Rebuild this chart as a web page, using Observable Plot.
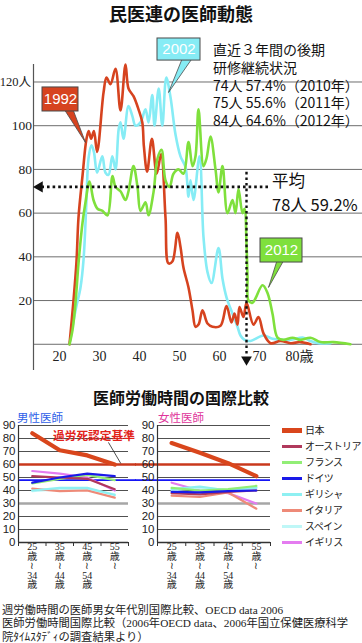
<!DOCTYPE html>
<html lang="ja"><head><meta charset="utf-8">
<script src="https://cdn.jsdelivr.net/npm/d3@7"></script>
<script src="https://cdn.jsdelivr.net/npm/@observablehq/plot@0.6"></script>
<style>
html,body{margin:0;padding:0;background:#fff;}
#root{position:relative;width:362px;height:643px;overflow:hidden;background:#fff;}
.abs{position:absolute;white-space:nowrap;}
#root svg{position:absolute;overflow:visible;}
</style></head><body><div id="root"></div>
<script>
// ===== 民医連の医師動態 : doctors by age =====
const age1992 = [22.5,23.5,24.25,24.75,25.75,26.75,27.3,27.9,28.6,29.4,31,31.75,32.75,34,35.25,36.5,37.25,38.5,39.75,40.7,41.1,41.9,43.1,44.3,45.4,46.5,47.25,48.25,49.5,50.25,51,52.25,53.25,54,54.75,55.75,57,58.25,60.25,61.75,63,63.75,64.5,65,66,66.75,68.5,69.75,71,72.75,75.25,77.75,80.25,82.75];
const count1992 = [0,20,38,58,77,94,97.5,94,97.5,88,115,122,119,126,107,128,117,113.5,107.5,101.5,90.5,79,94,78,87,58,37,38,51,44.5,35,26,15.5,8,9,15.5,9.5,8,8.5,17.5,10,14,9,17,12.5,19,9,12.5,5,0.5,1.5,0.5,1,0];
const age2002 = [22.5,24,25.25,26,26.75,27.25,28,28.6,29.4,30.7,31.5,32.25,33.2,34,34.8,35.25,36,37.25,38.2,39,40.25,41.5,42.25,43.2,43.75,44.8,45.7,46.7,47.75,49,50.25,51.5,52.25,52.75,53.5,55,56,57,58,59.75,60.75,61.75,63.25,64.5,65.25,66.25,67.75,71,73.25,75.75,77.75,81,82.75,84.75,87.75];
const count2002 = [0,15.5,26,38.5,66,85,91,88,78.5,86,78.5,77.5,86,80,98.5,101.5,94,109,104.5,100,101.5,107.5,101.5,114,100,117,100,122,113,96,86,81,67.5,75,66,86,49,33,28,44,30,21.5,14,8,4,2,1.5,4,2.5,2,2,3,1.5,0.5,0.5];
const age2012 = [22.5,23.25,24,24.75,25.75,26.5,27.5,28.5,29.5,30.75,32,33.25,34,35.25,36.5,37.25,38.5,39.5,40.25,41.5,42.25,43.5,44.5,45.5,46.5,47.5,48.5,49.75,51,52.25,53.25,54,54.75,56,56.75,57.75,59,59.75,60.75,62,63.25,64,64.75,65.75,66.25,66.75,67,67.25,68.25,70.75,72,73.25,74.5,76,78.25,80.25,82.75,85.25,88.5,92.75];
const count2012 = [0,6.5,19,37,55.5,65,74.5,66,62,61,59,77,72,70,66,70,81.5,72,61,65,59,69.5,85,89,75,72,78,80,78,92.5,81.5,86,107.5,81.5,85,95,80,69.5,81.5,60,66,60,71,60,62,46,31,20,19,27,23.5,14,3,2,3,2,3,1,1,0];
const seriesYears = ["1992","2002","2012"];
const yTicks = [20,40,60,80,100,120];
const xTicks = [20,30,40,50,60,70,80];
const averageLevel = 72;      // dotted "平均" line
const averageAge = 66.75;     // dotted vertical line
const recentLines = ["直近３年間の後期","研修継続状況","74人 57.4%（2010年）","75人 55.6%（2011年）","84人 64.6%（2012年）"];
const averageText = ["平均","78人 59.2%"];

// ===== 医師労働時間の国際比較 =====
const countries = ["日本","オーストリア","フランス","ドイツ","ギリシャ","イタリア","スペイン","イギリス"];
const ageFrom = [25,35,45,55];
const ageTo = [34,44,54,null];
const maleHours = [
  [84,71,67,60],
  [51,50,49,41],
  [45.5,49,52,48],
  [46,50,53,51],
  [40,42,42,36.5],
  [41.5,39.5,40,34.5],
  [39.5,41,41,37],
  [55,53,50,40]
];
const femaleHours = [
  [76.5,69,61,51],
  [38,37,39,40],
  [42,40,41,43.5],
  [39,38.5,39.5,40],
  [41,43,40,42],
  [36,35,38.5,26],
  [40,42,40.5,42.5],
  [46,40,38,30]
];
const hourTicks = d3.range(0, 91, 10);
const karoshiLine = 60;
const euLine = 48;

// ===== styles =====
const SANS = '"Noto Sans CJK JP","Noto Sans",sans-serif';
const SERIF = '"Liberation Serif","DejaVu Serif","Noto Sans CJK JP",serif';
const ARIAL = '"Liberation Sans",Arial,sans-serif';
const lineColors = {"1992":"#d6431f","2002":"#86ecf5","2012":"#7fe03c"};
const countryColors = ["#d9461c","#b0395c","#92ee76","#1a1ae8","#8ef0f2","#ee8a78","#bff7f7","#e47cf0"];

const root = document.getElementById("root");
function addText(txt, o) {
  const d = document.createElement("div");
  d.className = "abs";
  const h = o.lh || Math.round(o.size * 1.3);
  d.style.cssText = `left:${o.left||0}px;top:${o.cy - h/2}px;font-size:${o.size}px;line-height:${h}px;color:${o.color||"#111"};font-weight:${o.weight||400};font-family:${o.family||SANS};text-align:${o.align||"left"};` + (o.width ? `width:${o.width}px;` : "") + (o.extra||"");
  d.textContent = txt;
  root.appendChild(d);
  return d;
}
function place(svg, left, top) {
  svg.style.left = left + "px";
  svg.style.top = top + "px";
  root.appendChild(svg);
}

// ===== main chart =====
const xMin = 13.5, xMax = 95.75;
const toRows = (ages, counts, year) => ages.map((a, i) => ({age: a, count: counts[i], year}));
const rows = [
  ...toRows(age2002, count2002, "2002"),
  ...toRows(age1992, count1992, "1992"),
  ...toRows(age2012, count2012, "2012")
];
const callouts = [
  {label:"1992", box:[15.75,24.75,106.5,117.5], wedge:[[21,108],[26.5,92.3],[23.25,108]]},
  {label:"2002", box:[44.5,55.25,129.8,139.9], wedge:[[50.75,131],[47.25,115.2],[53.25,131]]},
  {label:"2012", box:[70.25,80.75,37.4,48.4], wedge:[[74.5,39],[72.25,26],[76.25,39]]}
];
const calloutMarks = callouts.flatMap(c => [
  Plot.line(c.wedge, {x: d => d[0], y: d => d[1], fill: lineColors[c.label], stroke: "#4a4a4a", strokeWidth: 0.8}),
  Plot.rect([c], {x1: d => d.box[0], x2: d => d.box[1], y1: d => d.box[2], y2: d => d.box[3], fill: lineColors[c.label], stroke: "#4a4a4a", strokeWidth: 1}),
  Plot.text([c], {x: d => (d.box[0] + d.box[1]) / 2, y: d => (d.box[2] + d.box[3]) / 2, text: "label", fill: "white", fontSize: 15, fontFamily: ARIAL})
]);
const topTick = yTicks[yTicks.length - 1];

const main = Plot.plot({
  width: 362, height: 372,
  marginLeft: 33, marginRight: 0, marginTop: 64, marginBottom: 2,
  style: "background:transparent;overflow:visible;",
  x: {domain: [xMin, xMax], axis: null},
  y: {domain: [-12, 128], axis: null},
  marks: [
    Plot.ruleY([0, ...yTicks], {stroke: "#6d6d6d", strokeWidth: 1}),
    Plot.ruleX([xMin], {stroke: "#555", strokeWidth: 1.2}),
    Plot.text(yTicks.filter(d => d !== topTick), {x: xMin, y: d => d, text: d => String(d), textAnchor: "end", dx: -1.5, fontSize: 13.5, fontFamily: SERIF, fill: "#222"}),
    Plot.text([topTick], {x: xMin, y: d => d, text: d => d + "人", textAnchor: "end", dx: -2.5, fontSize: 12.5, fontFamily: SERIF, fill: "#222"}),
    Plot.text(xTicks, {x: d => d, frameAnchor: "bottom", dy: -10, text: d => d === 80 ? d + "歳" : String(d), fontSize: 14, fontFamily: SERIF, fill: "#222"}),
    Plot.line(rows, {x: "age", y: "count", z: "year", stroke: d => lineColors[d.year], strokeWidth: 2.6, curve: "catmull-rom"}),
    // average guides
    Plot.ruleY([averageLevel], {x1: 15.6, x2: 72.3, stroke: "#111", strokeWidth: 2.6, strokeDasharray: "2.6,3"}),
    Plot.dot([averageLevel], {x: 15, y: d => d, symbol: "triangle", rotate: -90, r: 4.2, fill: "#111", stroke: "none"}),
    Plot.ruleX([averageAge], {y1: -4.5, y2: 80, stroke: "#111", strokeWidth: 2.4, strokeDasharray: "2.6,3"}),
    Plot.dot([averageAge], {x: d => d, y: -7, symbol: "triangle", rotate: 180, r: 4, fill: "#111", stroke: "none"}),
    ...calloutMarks
  ]
});
place(main, 0, 0);

addText("民医連の医師動態", {left: 0, width: 362, align: "center", cy: 13, size: 18, weight: 700, lh: 22});
// the five-line note as one block
const block = addText("", {left: 213, cy: 50 + 2 * 17.7, size: 14, lh: 17.7 * 5});
block.style.lineHeight = "17.7px";
block.style.whiteSpace = "pre";
block.textContent = recentLines.join("\n");
addText(averageText[0], {left: 272, cy: 180, size: 16.5, lh: 20});
addText(averageText[1], {left: 272, cy: 203.5, size: 16.5, lh: 20});

// ===== small multiples =====
function ageLabel(i) {
  return ageFrom[i] + "\n歳\n≀" + (ageTo[i] ? "\n" + ageTo[i] + "\n歳" : "");
}
const drawOrder = [7, 6, 5, 4, 2, 1, 3, 0];
function hoursChart(values, opts) {
  const data = drawOrder.flatMap(ci => values[ci].map((v, i) => ({country: countries[ci], ci, i, v})));
  return Plot.plot({
    width: opts.width, height: 180,
    marginLeft: opts.marginLeft, marginRight: opts.marginRight, marginTop: 7, marginBottom: 56,
    style: "background:transparent;overflow:visible;",
    x: {domain: [-0.5, 3.5], label: null},
    y: {domain: [0, 90], label: null},
    marks: [
      Plot.ruleY(hourTicks.filter(d => d !== 0 && d !== 30 && d !== karoshiLine), {stroke: "#505050", strokeWidth: 1}),
      Plot.ruleY([30], {stroke: "#a6a6a6", strokeWidth: 2.6}),
      Plot.ruleY([karoshiLine], {stroke: "#c9381c", strokeWidth: 2.4, insetLeft: opts.insetLeft, insetRight: opts.insetRight}),
      Plot.ruleY([euLine], {stroke: "#1515f5", strokeWidth: 1.7, insetLeft: opts.insetLeft, insetRight: opts.insetRight}),
      Plot.axisY({ticks: hourTicks, tickSize: 0, tickPadding: 3, fontSize: 11.5, fontFamily: ARIAL, fill: "#222", label: null}),
      Plot.axisX({ticks: [-0.5, 0.5, 1.5, 2.5, 3.5], tickFormat: () => "", tickSize: 4, stroke: "#333", label: null}),
      Plot.axisX({ticks: [0, 1, 2, 3], tickFormat: ageLabel, tickSize: 0, tickPadding: 1, lineHeight: 0.95, fontSize: 10, fontFamily: SERIF, fill: "#222", label: null}),
      Plot.ruleY([0], {stroke: "#333", strokeWidth: 1.3}),
      Plot.ruleX([-0.5], {stroke: "#333", strokeWidth: 1.2}),
      Plot.line(data, {x: "i", y: "v", z: "country", stroke: d => countryColors[d.ci], strokeWidth: d => d.ci === 0 ? 4.2 : 2.2}),
      ...(opts.extra || [])
    ]
  });
}
const karoshiPointer = {i1: 2.77, v1: 77, i2: 3.22, v2: 60.8};
const male = hoursChart(maleHours, {width: 136, marginLeft: 18, marginRight: 8, insetLeft: 0, insetRight: -8,
  extra: [Plot.link([karoshiPointer], {x1: "i1", y1: "v1", x2: "i2", y2: "v2", stroke: "#222", strokeWidth: 0.8})]});
place(male, 0, 418);
const female = hoursChart(femaleHours, {width: 140, marginLeft: 22, marginRight: 5, insetLeft: -22, insetRight: 0});
place(female, 135, 418);

addText("医師労働時間の国際比較", {left: 0, width: 362, align: "center", cy: 397, size: 16, weight: 700, lh: 20});
addText("男性医師", {left: 17, cy: 417, size: 11.5, color: "#2f5fe8", lh: 14});
addText("女性医師", {left: 158, cy: 417, size: 11.5, color: "#e0359b", lh: 14});
addText("過労死認定基準", {left: 53, cy: 435, size: 11.7, color: "#e2231a", weight: 700, lh: 14});

// legend
countries.forEach((c, i) => {
  const d = document.createElement("div");
  d.className = "abs";
  d.style.cssText = `left:282px;top:${422 + i * 16}px;height:16px;line-height:16px;font-size:10px;letter-spacing:-0.6px;font-family:${SANS};color:#222;`;
  const sw = document.createElement("span");
  const h = i === 0 ? 5 : 3;
  sw.style.cssText = `display:inline-block;width:20px;height:${h}px;background:${countryColors[i]};vertical-align:middle;margin-right:3px;position:relative;top:-1px;`;
  d.appendChild(sw);
  d.appendChild(document.createTextNode(c));
  root.appendChild(d);
});

// footnotes
const notes = ["週労働時間の医師男女年代別国際比較、OECD data 2006",
  "医師労働時間国際比較（2006年OECD data、2006年国立保健医療科学",
  "院ﾀｲﾑｽﾀﾃﾞｨの調査結果より）"];
notes.forEach((t, i) => addText(t, {left: 2, cy: 610 + i * 13.5, size: 11.3, color: "#222", family: SERIF, lh: 13}));
</script></body></html>
